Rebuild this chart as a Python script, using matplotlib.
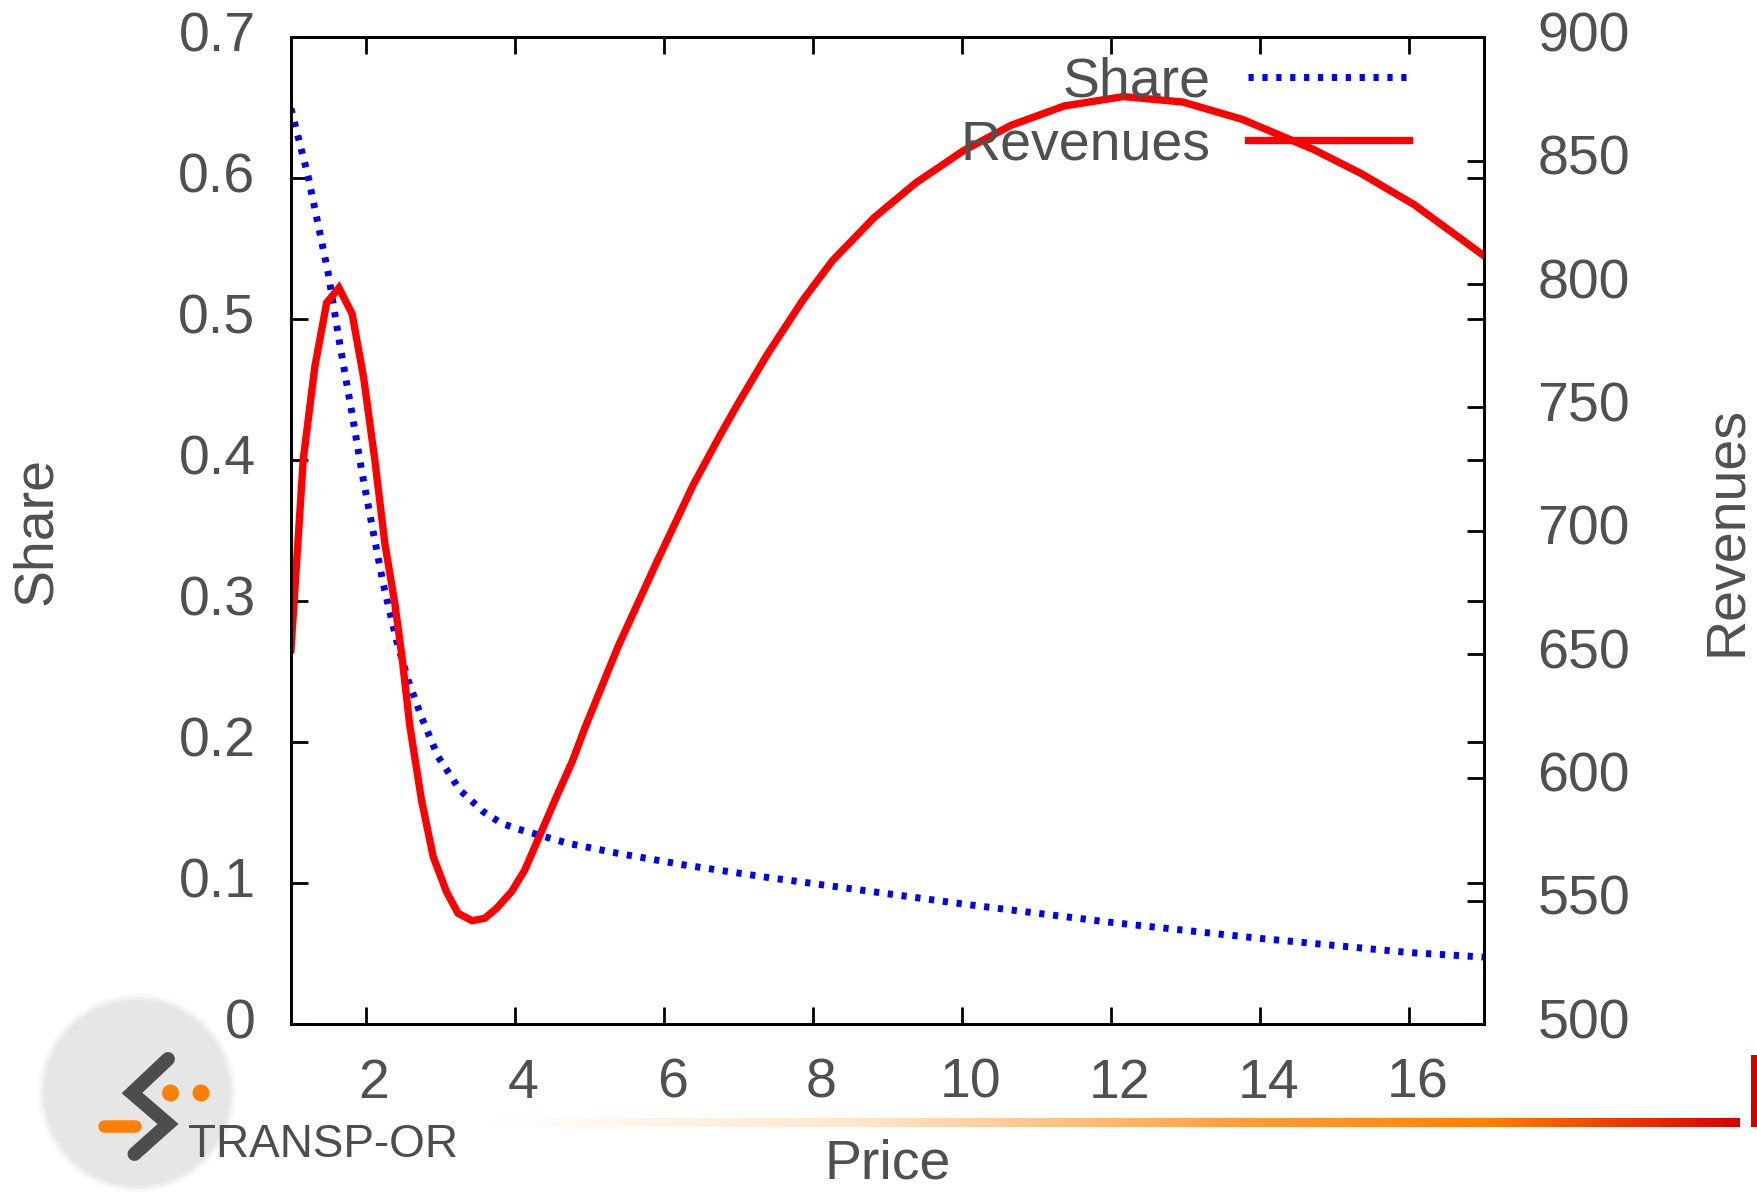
import numpy as np
import matplotlib
matplotlib.use("Agg")
import matplotlib.pyplot as plt
from matplotlib import font_manager, transforms
from matplotlib.colors import LinearSegmentedColormap
from matplotlib.patches import Circle, Rectangle

# values
share_price = [1.0, 1.232, 1.5, 1.656, 1.813, 1.947, 2.10, 2.236, 2.415, 2.571,
               2.75, 2.973, 3.063, 3.264, 3.58, 3.822, 4.045, 4.715, 5.385, 6.28,
               7.48, 7.65, 10.02, 12.0, 13.97, 16.0, 17.0]
share = [0.6496, 0.601, 0.5326, 0.482, 0.435, 0.393, 0.350, 0.3128, 0.2725, 0.2442,
         0.218, 0.1898, 0.1827, 0.1662, 0.1508, 0.1426, 0.1385, 0.1284, 0.1213, 0.113,
         0.1035, 0.1024, 0.0853, 0.0723, 0.0611, 0.0509, 0.0477]

rev_price = [1.0, 1.165, 1.32, 1.478, 1.643, 1.82, 1.975, 2.125, 2.259, 2.393,
             2.483, 2.594, 2.75, 2.908, 3.086, 3.241, 3.43, 3.60, 3.756, 3.957,
             4.135, 4.31, 4.56, 4.78, 4.94, 5.385, 5.9, 6.394, 6.752, 6.992,
             7.39, 7.867, 8.265, 8.822, 9.379, 10.015, 10.653, 11.37, 12.166, 12.961,
             13.757, 14.712, 15.348, 16.065, 17.0]
revenues = [651.8, 729, 766.5, 792.4, 798.5, 788, 762, 728.7, 695, 670.6,
            650.4, 621, 591, 567.9, 553.7, 545, 542, 543, 547, 553.7,
            562.5, 574.7, 592.2, 607.1, 620, 653, 687, 718.6, 738.6, 751.4,
            771.6, 793.6, 809.6, 827.0, 841.0, 854.0, 864.3, 872.2, 876.0, 873.8,
            866.8, 854.6, 844.9, 832.2, 811.5]

x_ticks = [2, 4, 6, 8, 10, 12, 14, 16]
share_ticks = [0, 0.1, 0.2, 0.3, 0.4, 0.5, 0.6, 0.7]
share_labels = ["0", "0.1", "0.2", "0.3", "0.4", "0.5", "0.6", "0.7"]
rev_ticks = [500, 550, 600, 650, 700, 750, 800, 850, 900]

plt.rcParams['font.family'] = ['Liberation Sans', 'DejaVu Sans']
GREY = '#505050'
FS = 40

fig = plt.figure(figsize=(17.57, 11.94), dpi=100)

# decoration layer in pixel coordinates (logo and bar)
deco = fig.add_axes([0, 0, 1, 1], zorder=0)
deco.axis('off')

ax = fig.add_axes([0.1656, 0.1421, 0.6790, 0.8266], zorder=1)
ax2 = ax.twinx()
ax2.set_zorder(2)

l1, = ax.plot(share_price, share, color='#0000ff', lw=5.0,
              linestyle=(0, (0.75, 1.25)), label='Share')
l2, = ax2.plot(rev_price, revenues, color='#ff0000', lw=5.3,
               solid_joinstyle='miter', label='Revenues')

ax.set_xlim(1, 17)
ax.set_ylim(0, 0.7)
ax2.set_ylim(500, 900)
ax.set_xticks(x_ticks)
ax.set_xticklabels([str(t) for t in x_ticks])
ax.set_yticks(share_ticks)
ax.set_yticklabels(share_labels)
ax2.set_yticks(rev_ticks)

ax.tick_params(axis='x', direction='in', length=12, width=2, top=True,
               labelsize=FS, labelcolor=GREY, pad=24)
ax.tick_params(axis='y', direction='in', length=12, width=2, left=True, right=True,
               labelleft=True, labelright=False, labelsize=FS, labelcolor=GREY, pad=25.5)
ax2.tick_params(axis='y', direction='in', length=12, width=2,
                labelsize=FS, labelcolor=GREY, pad=38.5)
for a in (ax, ax2):
    for s in a.spines.values():
        s.set_linewidth(2)

# gnuplot places tick labels a bit off the ticks
xshift = transforms.ScaledTranslation(0.085, 0, fig.dpi_scale_trans)
for lab in ax.get_xticklabels():
    lab.set_transform(lab.get_transform() + xshift)
yshift = transforms.ScaledTranslation(0, 0.06, fig.dpi_scale_trans)
for lab in ax.get_yticklabels() + ax2.get_yticklabels():
    lab.set_transform(lab.get_transform() + yshift)

ax.set_xlabel('Price', fontsize=FS, color=GREY, labelpad=21)
ax.set_ylabel('Share', fontsize=FS, color=GREY, labelpad=83)
ax2.set_ylabel('Revenues', fontsize=FS, color=GREY, labelpad=51)

leg = ax2.legend([l1, l2], ['Share', 'Revenues'], loc='upper right',
                 bbox_to_anchor=(0.937, 0.981), markerfirst=False, frameon=False,
                 fontsize=FS, handlelength=2.89, handletextpad=0.68,
                 labelspacing=0.2, borderpad=0, borderaxespad=0)
for t in leg.get_texts():
    t.set_color(GREY)

# logo
for r, a in [(99, 0.25), (96, 0.5), (93, 1.0)]:
    deco.add_patch(Circle((137, 1093), r, color='#e6e6e6', alpha=a, lw=0))
deco.plot([168, 132, 168, 134.5], [1059, 1093, 1124, 1154], color='#4d4d4d',
          lw=10, solid_capstyle='round', solid_joinstyle='miter')
deco.plot([104, 135], [1126, 1126], color='#ff8000', lw=9, solid_capstyle='round')
deco.add_patch(Circle((170.5, 1093), 8.5, color='#ff8000', lw=0))
deco.add_patch(Circle((201, 1093), 8.5, color='#ff8000', lw=0))
try:
    font_manager.findfont(font_manager.FontProperties(family='Liberation Sans Narrow'),
                          fallback_to_default=False)
    deco.text(188, 1157, 'TRANSP-OR', fontsize=35, family='Liberation Sans Narrow',
              color='#4d4d4d', ha='left', va='baseline')
except ValueError:
    deco.text(188, 1157, 'TRANSP-OR', fontsize=33, color='#4d4d4d',
              ha='left', va='baseline')

# orange-to-red bar
bar_cmap = LinearSegmentedColormap.from_list('bar', [
    (0.0, (1.0, 0.6, 0.2, 0.0)),
    (0.3, (1.0, 0.6, 0.2, 0.25)),
    (0.6, (1.0, 0.55, 0.1, 0.85)),
    (0.8, (1.0, 0.5, 0.0, 1.0)),
    (1.0, (0.85, 0.0, 0.0, 1.0))])
deco.imshow(np.linspace(0, 1, 512)[None, :], cmap=bar_cmap, aspect='auto',
            extent=(482, 1740, 1127, 1118))
deco.add_patch(Rectangle((1751, 1055), 8, 72, color='#d40000', lw=0))
deco.set_xlim(0, 1757)
deco.set_ylim(1194, 0)

fig.savefig('out.png', dpi=100)
